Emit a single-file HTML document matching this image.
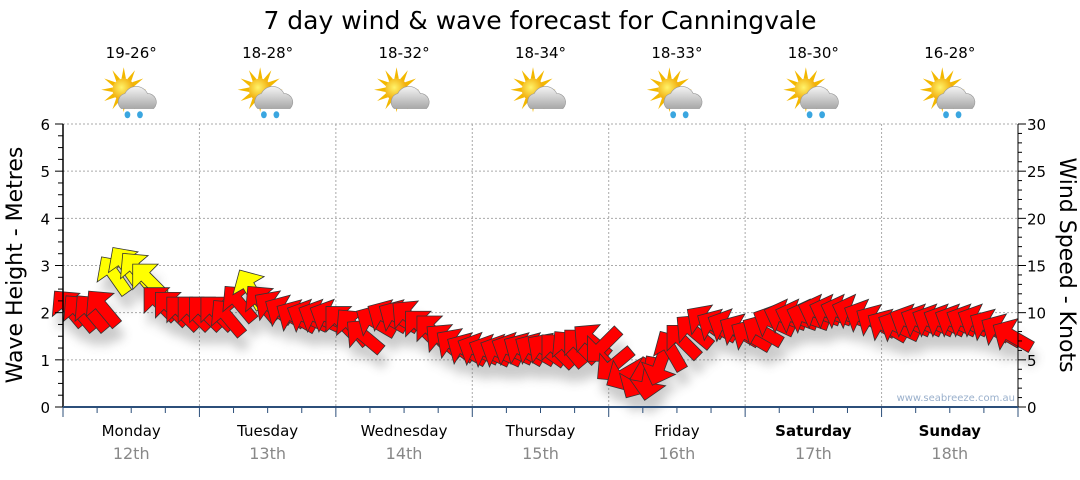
<!DOCTYPE html>
<html><head><meta charset="utf-8"><style>
body{margin:0;background:#fff;font-family:"Liberation Sans",sans-serif}
svg text{font-family:"DejaVu Sans","Liberation Sans",sans-serif}
</style></head><body>
<svg id="c" width="1080" height="475" xmlns="http://www.w3.org/2000/svg">
<defs>
<filter id="sh" x="-50%" y="-50%" width="200%" height="200%"><feGaussianBlur stdDeviation="5"/></filter>
<radialGradient id="sun" cx="0.4" cy="0.4" r="0.6"><stop offset="0" stop-color="#fff36a"/><stop offset="1" stop-color="#f0a400"/></radialGradient>
<linearGradient id="cl" x1="0" y1="0" x2="0" y2="1"><stop offset="0" stop-color="#f4f4f4"/><stop offset="1" stop-color="#a8a8a8"/></linearGradient>
</defs>
<text x="540" y="29" font-size="25" text-anchor="middle" fill="#000">7 day wind &amp; wave forecast for Canningvale</text>
<g id="grid"></g><g id="shadows" filter="url(#sh)" opacity="0.3"></g><g id="arrows"></g><g id="axes"></g><g id="top"></g>
<text x="1015" y="401" font-size="10" text-anchor="end" fill="#9ab0cc">www.seabreeze.com.au</text>
<text transform="translate(22,265) rotate(-90)" font-size="22" text-anchor="middle">Wave Height - Metres</text>
<text transform="translate(1060,265) rotate(90)" font-size="22" text-anchor="middle">Wind Speed - Knots</text>
</svg>
<script>
const days=["Monday","Tuesday","Wednesday","Thursday","Friday","Saturday","Sunday"];
const dates=["12th","13th","14th","15th","16th","17th","18th"];
const temps=["19-26°","18-28°","18-32°","18-34°","18-33°","18-30°","16-28°"];
const rainy=[true,true,false,false,true,true,true];
const waveTicks=[0,1,2,3,4,5,6];
const windTicks=[0,5,10,15,20,25,30];
const windSpeed=[10.5,10,10,10.5,14,15,14.5,13.5,11,10.5,10,10,
10,10,9.5,11,12.5,11,10.5,10,9.5,9.5,9.5,9.5,
9,8.5,7.5,9,9.5,9.5,9.5,8.5,8,7,6.5,6,
6,5.8,5.8,6,6,6,6,6,6.2,6.5,7,6.5,
4.5,3.5,3,3,4.5,6,7,8,9,8.5,8.5,8,
7.5,8,9,9.5,9.5,9.5,10,10,10,10,9.5,9,
8.5,8.5,9,9,9,9,9,9,9,8.5,8,7.5];
const windDir=[-40,-40,-40,-40,-35,-35,-40,-45,-45,-45,-45,-45,
-45,-45,-40,-40,-30,-40,-55,-60,-60,-65,-65,-65,
-45,-40,-50,-60,-60,-60,-50,-45,-45,-50,-55,-60,
-65,-65,-65,-65,-60,-60,-55,-45,-40,-45,-50,-135,
-130,-120,-150,-170,-160,-30,-45,-50,-55,-60,-65,-60,
-60,-60,-65,-70,-70,-70,-70,-70,-70,-70,-65,-60,
-60,-65,-65,-65,-65,-65,-65,-65,-65,-60,-60,-60];
const X0=63,X1=1018,Y0=407,Y1=124,NS="http://www.w3.org/2000/svg";
const dayW=(X1-X0)/7;
const yW=m=>Y0-(m/6)*(Y0-Y1), yK=k=>Y0-(k/30)*(Y0-Y1);
const xI=i=>X0+(i+0.5)*dayW/12;
function mk(t,a,p){const e=document.createElementNS(NS,t);for(const k in a)e.setAttribute(k,a[k]);(p||document.getElementById('c')).appendChild(e);return e;}
const g=document.getElementById('grid'),ax=document.getElementById('axes'),ar=document.getElementById('arrows'),sh=document.getElementById('shadows'),tp=document.getElementById('top');
waveTicks.forEach((m,i)=>{
 if(m>0){const l=mk('line',{x1:X0,x2:X1,y1:yW(m),y2:yW(m),stroke:'#aaa','stroke-dasharray':'2,2'},g);}
 const t=mk('text',{x:50,y:yW(m)+6,'font-size':15,'text-anchor':'end'},ax);t.textContent=m;
});
windTicks.forEach(k=>{const t=mk('text',{x:1027,y:yK(k)+6,'font-size':15},ax);t.textContent=k;});
for(let j=1;j<7;j++){const l=mk('line',{x1:X0+j*dayW,x2:X0+j*dayW,y1:Y1,y2:Y0,stroke:'#aaa','stroke-dasharray':'2,2'},g);}
mk('line',{x1:X0,x2:X0,y1:Y1,y2:Y0,stroke:'#000','stroke-width':1.5},ax);
mk('line',{x1:X1,x2:X1,y1:Y1,y2:Y0,stroke:'#000','stroke-width':1},ax);
mk('line',{x1:X0,x2:X1,y1:Y0,y2:Y0,stroke:'#2c4f7a','stroke-width':2},ax);
for(let v=0;v<=24;v++){const y=Y0-v*(Y0-Y1)/24,len=v%4==0?8:5;mk('line',{x1:X0-len,x2:X0,y1:y,y2:y,stroke:'#000'},ax);}
for(let v=0;v<=30;v++){const y=yK(v),len=v%5==0?8:4;mk('line',{x1:X1,x2:X1+len,y1:y,y2:y,stroke:'#000'},ax);}
for(let q=0;q<=28;q++){const x=X0+q*dayW/4;mk('line',{x1:x,x2:x,y1:Y0,y2:Y0+(q%4==0?10:6),stroke:'#2c4f7a'},ax);}
days.forEach((d,i)=>{
 const cx=X0+(i+0.5)*dayW,b=i>=5;
 let t=mk('text',{x:cx,y:436,'font-size':15,'text-anchor':'middle','font-weight':b?'bold':'normal'},ax);t.textContent=d;
 t=mk('text',{x:cx,y:459,'font-size':16,'text-anchor':'middle',fill:'#888'},ax);t.textContent=dates[i];
 t=mk('text',{x:cx,y:58,'font-size':15,'text-anchor':'middle'},tp);t.textContent=temps[i];
 const ic=mk('g',{transform:`translate(${cx},96) scale(1.25)`},tp);
 for(let r=0;r<12;r++){const a=r*30*Math.PI/180;
  mk('polygon',{points:`${-6+Math.cos(a)*18},${-5+Math.sin(a)*18} ${-6+Math.cos(a+0.2)*9},${-5+Math.sin(a+0.2)*9} ${-6+Math.cos(a-0.2)*9},${-5+Math.sin(a-0.2)*9}`,fill:'#f3b800'},ic);}
 mk('circle',{cx:-6,cy:-5,r:9,fill:'url(#sun)'},ic);
 mk('path',{d:'M-8,10 a7,7 0 0 1 3,-12 a10,10 0 0 1 18,0 a7,7 0 0 1 5,12 z',fill:'url(#cl)',stroke:'#999','stroke-width':0.5},ic);
 if(rainy[i]){[-3,7].forEach(dx=>mk('ellipse',{cx:dx,cy:15,rx:2.3,ry:2.8,fill:'#3aa6e0'},ic));}
});
windSpeed.forEach((s,i)=>{
 const x=xI(i),y=yK(s),col=s>=12.5?'#ffff00':'#ff0000';
 const d='M0,-22 L18,-4 L6,-4 L6,22 L-6,22 L-6,-4 L-18,-4 Z';
 mk('path',{d,transform:`translate(${x+4},${y+14}) rotate(${windDir[i]})`,fill:'#555'},sh);
 const p=mk('path',{d,transform:`translate(${x},${y}) rotate(${windDir[i]})`,fill:col,stroke:'#333','stroke-width':0.8},ar);
 
 
});
</script>
</body></html>
